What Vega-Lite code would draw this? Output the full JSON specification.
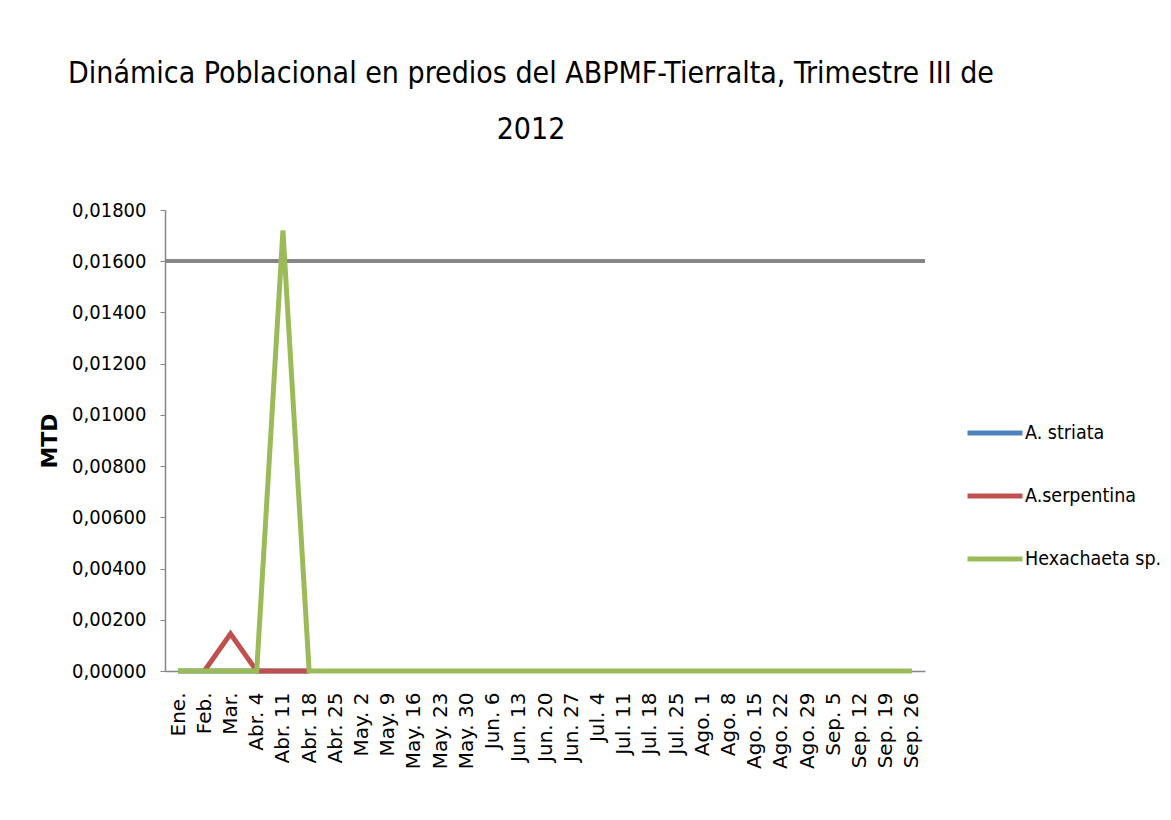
{
  "$schema": "https://vega.github.io/schema/vega-lite/v6.json",
  "autosize": "none",
  "width": 760,
  "height": 461,
  "padding": {"left": 165, "top": 210, "right": 246, "bottom": 149},
  "background": "white",
  "config": {
    "locale": {"number": {"decimal": ",", "thousands": ".", "grouping": [3], "currency": ["", ""]}},
    "view": {"stroke": null}
  },
  "title": {
    "text": ["Dinámica Poblacional  en predios del ABPMF-Tierralta, Trimestre III de", "2012"],
    "font": "DejaVu Sans Condensed",
    "fontSize": 30,
    "fontWeight": "normal",
    "color": "black",
    "anchor": "middle",
    "dx": -14,
    "offset": 55,
    "lineHeight": 56
  },
  "data": {"values": [
    {"fecha": "Ene.", "serie": "A. striata", "mtd": 0},
    {"fecha": "Feb.", "serie": "A. striata", "mtd": 0},
    {"fecha": "Mar.", "serie": "A. striata", "mtd": 0},
    {"fecha": "Abr. 4", "serie": "A. striata", "mtd": 0},
    {"fecha": "Abr. 11", "serie": "A. striata", "mtd": 0},
    {"fecha": "Abr. 18", "serie": "A. striata", "mtd": 0},
    {"fecha": "Feb.", "serie": "A.serpentina", "mtd": 0},
    {"fecha": "Mar.", "serie": "A.serpentina", "mtd": 0.00145},
    {"fecha": "Abr. 4", "serie": "A.serpentina", "mtd": 0},
    {"fecha": "Abr. 11", "serie": "A.serpentina", "mtd": 0},
    {"fecha": "Abr. 18", "serie": "A.serpentina", "mtd": 0},
    {"fecha": "Ene.", "serie": "Hexachaeta sp.", "mtd": 0},
    {"fecha": "Feb.", "serie": "Hexachaeta sp.", "mtd": 0},
    {"fecha": "Mar.", "serie": "Hexachaeta sp.", "mtd": 0},
    {"fecha": "Abr. 4", "serie": "Hexachaeta sp.", "mtd": 0},
    {"fecha": "Abr. 11", "serie": "Hexachaeta sp.", "mtd": 0.0172},
    {"fecha": "Abr. 18", "serie": "Hexachaeta sp.", "mtd": 0},
    {"fecha": "Abr. 25", "serie": "Hexachaeta sp.", "mtd": 0},
    {"fecha": "May. 2", "serie": "Hexachaeta sp.", "mtd": 0},
    {"fecha": "May. 9", "serie": "Hexachaeta sp.", "mtd": 0},
    {"fecha": "May. 16", "serie": "Hexachaeta sp.", "mtd": 0},
    {"fecha": "May. 23", "serie": "Hexachaeta sp.", "mtd": 0},
    {"fecha": "May. 30", "serie": "Hexachaeta sp.", "mtd": 0},
    {"fecha": "Jun. 6", "serie": "Hexachaeta sp.", "mtd": 0},
    {"fecha": "Jun. 13", "serie": "Hexachaeta sp.", "mtd": 0},
    {"fecha": "Jun. 20", "serie": "Hexachaeta sp.", "mtd": 0},
    {"fecha": "Jun. 27", "serie": "Hexachaeta sp.", "mtd": 0},
    {"fecha": "Jul. 4", "serie": "Hexachaeta sp.", "mtd": 0},
    {"fecha": "Jul. 11", "serie": "Hexachaeta sp.", "mtd": 0},
    {"fecha": "Jul. 18", "serie": "Hexachaeta sp.", "mtd": 0},
    {"fecha": "Jul. 25", "serie": "Hexachaeta sp.", "mtd": 0},
    {"fecha": "Ago. 1", "serie": "Hexachaeta sp.", "mtd": 0},
    {"fecha": "Ago. 8", "serie": "Hexachaeta sp.", "mtd": 0},
    {"fecha": "Ago. 15", "serie": "Hexachaeta sp.", "mtd": 0},
    {"fecha": "Ago. 22", "serie": "Hexachaeta sp.", "mtd": 0},
    {"fecha": "Ago. 29", "serie": "Hexachaeta sp.", "mtd": 0},
    {"fecha": "Sep. 5", "serie": "Hexachaeta sp.", "mtd": 0},
    {"fecha": "Sep. 12", "serie": "Hexachaeta sp.", "mtd": 0},
    {"fecha": "Sep. 19", "serie": "Hexachaeta sp.", "mtd": 0},
    {"fecha": "Sep. 26", "serie": "Hexachaeta sp.", "mtd": 0}
  ]},
  "layer": [
    {
      "mark": {"type": "rule", "color": "#868686", "strokeWidth": 3},
      "encoding": {"y": {"datum": 0.016}}
    },
    {
      "mark": {"type": "line", "strokeWidth": 5, "strokeCap": "butt", "strokeJoin": "miter"},
      "encoding": {
        "x": {
          "field": "fecha", "type": "ordinal",
          "sort": ["Ene.", "Feb.", "Mar.", "Abr. 4", "Abr. 11", "Abr. 18", "Abr. 25", "May. 2", "May. 9", "May. 16", "May. 23", "May. 30", "Jun. 6", "Jun. 13", "Jun. 20", "Jun. 27", "Jul. 4", "Jul. 11", "Jul. 18", "Jul. 25", "Ago. 1", "Ago. 8", "Ago. 15", "Ago. 22", "Ago. 29", "Sep. 5", "Sep. 12", "Sep. 19", "Sep. 26"],
          "scale": {"type": "point", "padding": 0.5},
          "axis": {
            "title": null,
            "labelAngle": -90,
            "labelAlign": "right",
            "labelBaseline": "middle",
            "labelFont": "DejaVu Sans",
            "labelFontSize": 20,
            "labelColor": "black",
            "labelPadding": 21,
            "labelOverlap": false,
            "ticks": false,
            "domainColor": "#868686",
            "domainWidth": 1.5,
            "grid": false
          }
        },
        "y": {
          "field": "mtd", "type": "quantitative",
          "scale": {"domain": [0, 0.018], "nice": false},
          "axis": {
            "title": "MTD",
            "titleFont": "DejaVu Sans",
            "titleFontSize": 22,
            "titleFontWeight": "bold",
            "titleColor": "black",
            "titlePadding": 10,
            "values": [0, 0.002, 0.004, 0.006, 0.008, 0.01, 0.012, 0.014, 0.016, 0.018],
            "format": ".5f",
            "labelFont": "DejaVu Sans Condensed",
            "labelFontSize": 20,
            "labelColor": "black",
            "labelPadding": 14,
            "tickSize": 5,
            "tickColor": "#868686",
            "domainColor": "#868686",
            "domainWidth": 1.5,
            "gridColor": "#868686",
            "gridWidth": 1.3
          }
        },
        "color": {
          "field": "serie", "type": "nominal",
          "scale": {"domain": ["A. striata", "A.serpentina", "Hexachaeta sp."], "range": ["#4F81BD", "#C0504D", "#9BBB59"]},
          "legend": {
            "title": null,
            "orient": "none",
            "legendX": 800,
            "legendY": 193,
            "symbolType": "stroke",
            "symbolSize": 3025,
            "symbolStrokeWidth": 5,
            "rowPadding": 23,
            "labelFont": "DejaVu Sans Condensed",
            "labelFontSize": 19.5,
            "labelColor": "black",
            "labelOffset": 0
          }
        }
      }
    }
  ]
}
